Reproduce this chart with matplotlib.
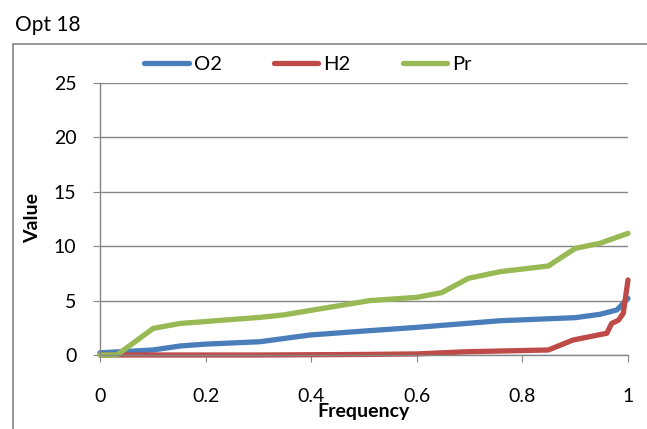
import matplotlib.pyplot as plt
from matplotlib.patches import Rectangle

plt.rcParams['font.family'] = ['Lato', 'DejaVu Sans']

# values
o2_x = [0, 0.1, 0.152, 0.2, 0.303, 0.398, 0.511, 0.6, 0.758, 0.9, 0.947, 0.979, 1.0]
o2_y = [0.2, 0.46, 0.83, 1.0, 1.22, 1.84, 2.24, 2.54, 3.15, 3.43, 3.74, 4.14, 5.2]

h2_x = [0, 0.3, 0.5, 0.6, 0.694, 0.849, 0.896, 0.96, 0.969, 0.982, 0.991, 1.0]
h2_y = [0, 0, 0.05, 0.1, 0.3, 0.46, 1.38, 2.0, 2.9, 3.2, 3.83, 6.9]

pr_x = [0, 0.032, 0.101, 0.152, 0.303, 0.347, 0.511, 0.6, 0.647, 0.698, 0.758, 0.849, 0.9, 0.947, 1.0]
pr_y = [0, 0, 2.45, 2.9, 3.46, 3.68, 5.0, 5.3, 5.73, 7.05, 7.66, 8.18, 9.8, 10.27, 11.18]

gray = "#868686"

fig = plt.figure(figsize=(6.47, 4.29), dpi=100)
ax = fig.add_axes([100 / 647, 1 - 355 / 429, 528 / 647, 272 / 429])

ax.plot(o2_x, o2_y, color="#4A7EBB", lw=3.8, label="O2", clip_on=False, solid_capstyle="round")
ax.plot(h2_x, h2_y, color="#BE4B48", lw=3.8, label="H2", clip_on=False, solid_capstyle="round")
ax.plot(pr_x, pr_y, color="#98B954", lw=3.8, label="Pr", clip_on=False, solid_capstyle="round")

ax.set_xlim(0, 1)
ax.set_ylim(0, 25)
ax.set_xticks([0, 0.2, 0.4, 0.6, 0.8, 1])
ax.set_xticklabels(["0", "0.2", "0.4", "0.6", "0.8", "1"])
ax.set_yticks([0, 5, 10, 15, 20, 25])
ax.yaxis.grid(True, color=gray, lw=1)
ax.set_axisbelow(True)
for s in ["top", "right"]:
    ax.spines[s].set_visible(False)
for s in ["left", "bottom"]:
    ax.spines[s].set_color(gray)
    ax.spines[s].set_linewidth(1)
ax.tick_params(axis="x", length=5, color=gray, labelsize=14, pad=19)
ax.tick_params(axis="y", length=5, color=gray, labelsize=14, pad=12)

fig.text(364 / 647, 1 - 412 / 429, "Frequency", ha="center", va="center",
         fontsize=14, fontweight="bold")
fig.text(33 / 647, 1 - 218 / 429, "Value", ha="center", va="center",
         fontsize=14, fontweight="bold", rotation=90)
fig.text(15 / 647, 1 - 25 / 429, "Opt 18", ha="left", va="center", fontsize=15)

fig.legend(loc="center", bbox_to_anchor=(308 / 647, 1 - 64 / 429), ncol=3,
           frameon=False, fontsize=14.5, handlelength=2.2, handletextpad=0.25,
           columnspacing=2.6)

fig.patches.append(Rectangle((13 / 647, -0.1), 1.2, 1 - 44 / 429 + 0.1,
                             transform=fig.transFigure, fill=False,
                             edgecolor=gray, lw=1.2))

fig.savefig("out.png", dpi=100)
